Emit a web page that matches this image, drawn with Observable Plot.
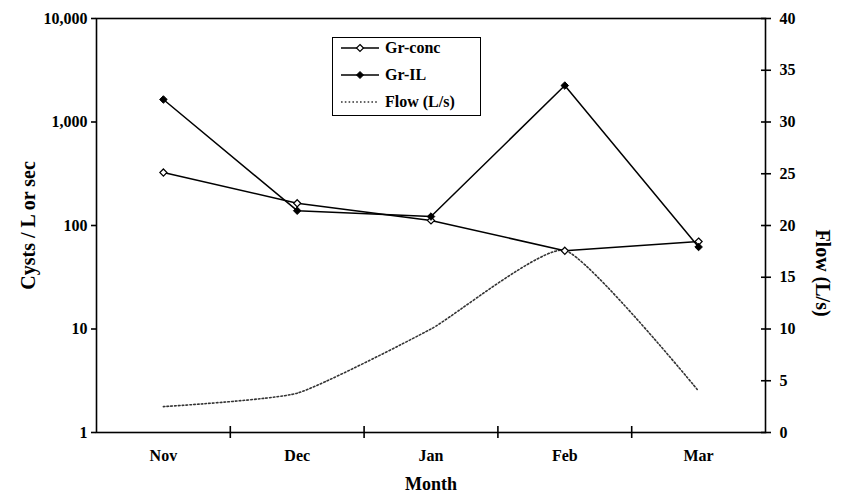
<!DOCTYPE html>
<html>
<head>
<meta charset="utf-8">
<script src="https://cdn.jsdelivr.net/npm/d3@7"></script>
<script src="https://cdn.jsdelivr.net/npm/@observablehq/plot@0.6"></script>
<style>
  html, body { margin: 0; padding: 0; background: #fff; }
  #wrap { position: relative; width: 844px; height: 495px; font-family: "Liberation Serif", "Times New Roman", Times, serif; color: #000; }
  #wrap svg, #wrap svg text { font-family: "Liberation Serif", "Times New Roman", Times, serif !important; font-weight: bold; }
  #wrap svg [aria-label="y-axis label"] text { font-size: 20px; }
  #wrap svg [aria-label="x-axis label"] text { font-size: 18px; }
  #rtitle { position: absolute; left: 822px; top: 273px; transform: translate(-50%, -50%) rotate(90deg); white-space: nowrap; font-size: 20px; font-weight: bold; }
  #legend { position: absolute; left: 332px; top: 37px; width: 147px; height: 77px; border: 1px solid #000; background: #fff; font-weight: bold; font-size: 16px; }
  .row { position: absolute; left: 8px; height: 16px; display: flex; align-items: center; }
  .row svg { display: block; }
  .row span { margin-left: 6px; }
</style>
</head>
<body>
<div id="wrap"></div>
<script>
const months = ["Nov", "Dec", "Jan", "Feb", "Mar"];
const grConc = [325, 164, 112, 57, 70];
const grIL = [1650, 139, 122, 2250, 62];
const flow = [2.5, 3.8, 10.0, 17.6, 4.0];
const leftTicks = [1, 10, 100, 1000, 10000];
const rightTicks = [0, 5, 10, 15, 20, 25, 30, 35, 40];
const seriesNames = ["Gr-conc", "Gr-IL", "Flow (L/s)"];
const rightTitle = "Flow (L/s)";

// flow axis (0–40) shares the log frame: 0 → 1, 40 → 10,000
const flowToY = f => Math.pow(10, f / 10);
const yToFlow = y => Math.round(10 * Math.log10(y));

const idx = months.map((m, i) => i);
const bounds = [0.5, 1.5, 2.5, 3.5];
const concData = idx.map(i => ({i, v: grConc[i]}));
const ilData = idx.map(i => ({i, v: grIL[i]}));
const flowData = idx.map(i => ({i, v: flowToY(flow[i])}));

const chart = Plot.plot({
  width: 844,
  height: 495,
  marginLeft: 96,
  marginRight: 79,
  marginTop: 18,
  marginBottom: 63,
  style: {fontFamily: "Liberation Serif, serif", fontSize: "16px", fontWeight: "bold", background: "#fff", color: "#000"},
  x: {type: "linear", domain: [-0.5, 4.5]},
  y: {type: "log", domain: [1, 10000]},
  marks: [
    Plot.frame({stroke: "#000", strokeWidth: 1.6}),
    // left log axis
    Plot.axisY(leftTicks, {anchor: "left", tickSize: 5, tickPadding: 4, tickFormat: d3.format(","),
      label: "Cysts / L or sec", labelAnchor: "center", labelOffset: 76, labelArrow: "none", strokeWidth: 1.6}),
    // right flow axis: crossing tick marks, then labels
    Plot.axisY(rightTicks.map(flowToY), {anchor: "right", tickSize: 10, dx: -5, tickFormat: () => "", label: null, strokeWidth: 1.6}),
    Plot.axisY(rightTicks.map(flowToY), {anchor: "right", tickSize: 5, tickPadding: 9, tickFormat: yToFlow,
      label: null, strokeOpacity: 0}),
    // bottom axis: labels at month centres, ticks at boundaries
    Plot.axisX(idx, {anchor: "bottom", tickSize: 0, tickPadding: 17, tickFormat: i => months[i],
      label: "Month", labelAnchor: "center", labelOffset: 57, labelArrow: "none"}),
    Plot.axisX(bounds, {anchor: "bottom", tickSize: 12, dy: -6, tickFormat: () => "", label: null, strokeWidth: 1.6}),
    // series
    Plot.line(flowData, {x: "i", y: "v", stroke: "#333", strokeWidth: 1.6, strokeDasharray: "1.6,2.2", curve: "cardinal", tension: 0.5}),
    Plot.line(concData, {x: "i", y: "v", stroke: "#000", strokeWidth: 1.5}),
    Plot.line(ilData, {x: "i", y: "v", stroke: "#000", strokeWidth: 1.5}),
    Plot.dot(concData, {x: "i", y: "v", symbol: "diamond2", r: 3.2, fill: "#fff", stroke: "#000", strokeWidth: 1.2}),
    Plot.dot(ilData, {x: "i", y: "v", symbol: "diamond2", r: 3.4, fill: "#000", stroke: "#000", strokeWidth: 1})
  ]
});
const wrap = document.getElementById("wrap");
wrap.appendChild(chart);

// right-hand axis title, reading top to bottom
const rt = document.createElement("div");
rt.id = "rtitle";
rt.textContent = rightTitle;
wrap.appendChild(rt);

// legend box inside the plot area
const legend = document.createElement("div");
legend.id = "legend";
const swatches = [
  `<line x1="0" y1="8" x2="38" y2="8" stroke="#000" stroke-width="1.4"/><path d="M19,4.5 L22.5,8 L19,11.5 L15.5,8Z" fill="#fff" stroke="#000" stroke-width="1.2"/>`,
  `<line x1="0" y1="8" x2="38" y2="8" stroke="#000" stroke-width="1.4"/><path d="M19,4.5 L22.5,8 L19,11.5 L15.5,8Z" fill="#000" stroke="#000"/>`,
  `<line x1="0" y1="8" x2="38" y2="8" stroke="#333" stroke-width="1.4" stroke-dasharray="1.6,2.2"/>`
];
const rowTops = [2, 29, 56];
seriesNames.forEach((name, k) => {
  const row = document.createElement("div");
  row.className = "row";
  row.style.top = rowTops[k] + "px";
  row.innerHTML = `<svg width="38" height="16">${swatches[k]}</svg><span>${name}</span>`;
  legend.appendChild(row);
});
wrap.appendChild(legend);
</script>
</body>
</html>
